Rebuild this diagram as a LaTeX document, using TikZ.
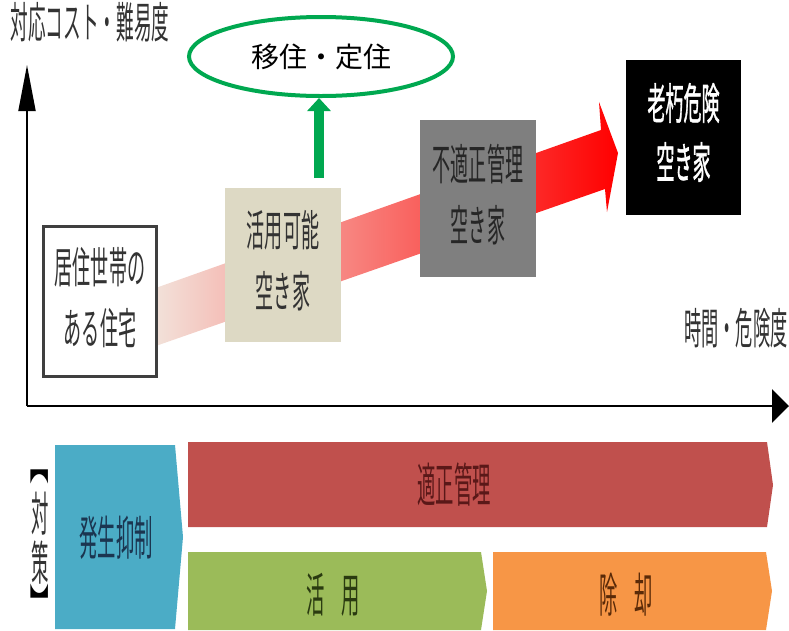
\documentclass[tikz,border=0pt]{standalone}
\usepackage{fontspec}
\usepackage{graphicx}
\usetikzlibrary{shapes.geometric,arrows.meta}
\newfontfamily\jp{Noto Sans CJK JP}
\newfontfamily\jpb[FakeBold=1.5]{Noto Sans CJK JP}
\definecolor{gradA}{HTML}{F2E4DC}
\definecolor{gradB}{HTML}{F29A9A}
\definecolor{gradC}{HTML}{FF0000}
\definecolor{boxborder}{HTML}{3F3F3F}
\definecolor{txtgray}{HTML}{333333}
\definecolor{beige}{HTML}{DDD9C4}
\definecolor{midgray}{HTML}{7F7F7F}
\definecolor{ellgreen}{RGB}{0,168,80}
\definecolor{cblue}{HTML}{4BACC6}
\definecolor{cred}{HTML}{C0504D}
\definecolor{cgreen}{HTML}{9BBB59}
\definecolor{corange}{HTML}{F79646}
\definecolor{tblue}{HTML}{1B3550}
\definecolor{tred}{HTML}{5A1818}
\definecolor{tgreen}{HTML}{2A3A10}
\definecolor{torange}{HTML}{5A2A08}
\newcommand\sqz[2]{\scalebox{#1}[1]{\begin{tabular}{@{}c@{}}#2\end{tabular}}}
\begin{document}
\begin{tikzpicture}[x=1pt,y=-1pt,
  box/.style={minimum width=116pt, minimum height=154pt, inner sep=0pt,
    font=\jp\fontsize{43}{61}\selectfont, text=txtgray},
  lbl/.style={inner sep=0pt, font=\jp\fontsize{43}{50}\selectfont, text=txtgray},
  band/.style={inner sep=0pt, font=\jp\fontsize{47}{50}\selectfont}]
\useasboundingbox (0,0) rectangle (789,630);

% gradient arrow
\shade[left color=gradA, middle color=gradB, right color=gradC]
  (150,290) -- (601,130) -- (599,102) -- (618,153) -- (607,212) -- (605,189) -- (150,348) -- cycle;

% boxes
\node[box, draw=boxborder, line width=3pt, fill=white, minimum width=113pt, minimum height=150pt] (b1) at (100,301.5) {\sqz{0.42}{居住世帯の\\ある住宅}};
\node[box, fill=beige] (b2) at (283,265) {\sqz{0.42}{活用可能\\空き家}};
\node[box, fill=midgray, minimum height=157pt, text=black!85] (b3) at (478,198.5) {\sqz{0.42}{不適正管理\\空き家}};
\node[box, fill=black, minimum width=115pt, minimum height=155pt, text=white, font=\jpb\fontsize{43}{59}\selectfont] (b4) at (683.5,137) {\sqz{0.42}{老朽危険\\空き家}};

% axes
\coordinate (O) at (27,406);
\coordinate (Ytip) at (27,65);
\coordinate (Xtip) at (789,406);
\draw[line width=1.8pt, -{Triangle[length=46pt,width=17pt]}] (O) -- (Ytip);
\draw[line width=2.6pt, -{Triangle[length=17pt,width=33pt]}] (O) -- (Xtip);
\node[lbl] (ylab) at (90,28) {\sqz{0.41}{対応コスト・難易度}};
\node[lbl, anchor=west] (xlab) at (684,334) {\sqz{0.4}{時間・危険度}};

% ellipse and green arrow
\node[ellipse, draw=ellgreen, line width=4pt, minimum width=264pt, minimum height=79pt,
  font=\jp\fontsize{28}{30}\selectfont] (ell) at (321,56.5) {移住・定住};
\coordinate (gstart) at (319,178);
\draw[ellgreen, line width=10pt, -{Triangle[length=13pt,width=23pt]}] (gstart) -- (gstart |- ell.south);

% bottom measures
\node[band] (tb1) at (40,462) {\scalebox{0.4}[1]{\rotatebox{-90}{【}}};
\node[band, text=txtgray] (tai) at (40,514) {\scalebox{0.37}[1]{対}};
\node[band, text=txtgray] (saku) at (40,563) {\scalebox{0.37}[1]{策}};
\node[band] (tb2) at (40,606) {\scalebox{0.4}[1]{\rotatebox{-90}{】}}};

\fill[cblue] (55,445) -- (175,445) -- (183,537) -- (175,629) -- (55,629) -- cycle;
\fill[cred] (188,442) -- (767,442) -- (773,485) -- (767,527) -- (188,527) -- cycle;
\fill[cgreen] (188,552) -- (481,552) -- (487,591) -- (481,630) -- (188,630) -- cycle;
\fill[corange] (493,552) -- (766,552) -- (772,591) -- (766,630) -- (493,630) -- cycle;

\node[band, text=tblue] (hassei) at (116,538) {\scalebox{0.39}[1]{発生抑制}};
\node[band, text=tred] (tekisei) at (454,485) {\scalebox{0.39}[1]{適正管理}};
\node[band, text=tgreen] (katsuyo) at (333,595) {\scalebox{0.39}[1]{活\hspace{0.9em}用}};
\node[band, text=torange] (jokyaku) at (626,595) {\scalebox{0.39}[1]{除\hspace{0.9em}却}};
\end{tikzpicture}
\end{document}
